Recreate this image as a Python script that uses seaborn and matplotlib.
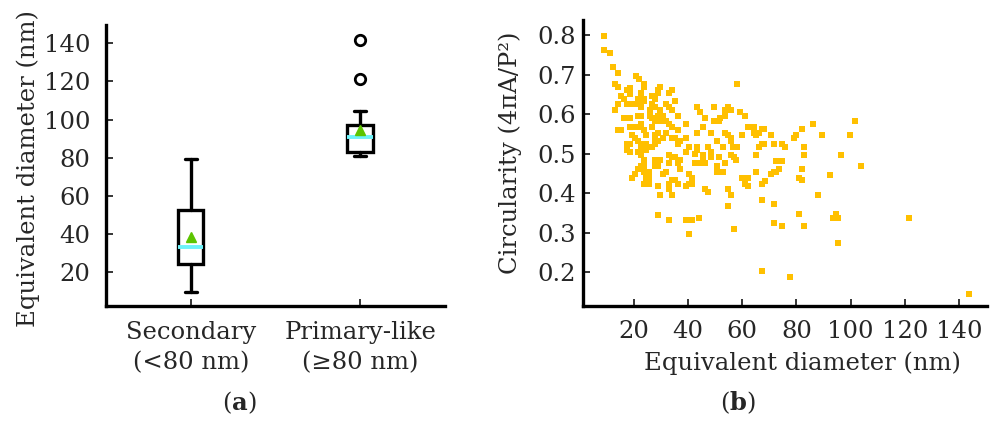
import matplotlib
matplotlib.use("Agg")
import matplotlib.pyplot as plt
import pandas as pd
import seaborn as sns

# ---- panel (a): box-plot summary statistics ----
categories = ["Secondary\n(<80 nm)", "Primary-like\n(≥80 nm)"]
box_q1 = [24.2, 83.2]
box_median = [33.1, 91.1]
box_q3 = [52.7, 97.2]
box_whislo = [9.5, 81.0]
box_whishi = [79.2, 104.7]
box_mean = [38.7, 94.6]
box_fliers = [[], [121.5, 141.6]]
a_yticks = [20, 40, 60, 80, 100, 120, 140]

# ---- panel (b): scatter ----
diameter = [
    8.9, 8.9, 11.0, 12.1, 14.2, 13.2, 14.2, 20.6, 21.7, 23.6, 23.6, 58.0, 18.4, 17.3, 15.3,
    16.3, 14.2, 13.2, 17.3, 18.4, 19.4, 18.4, 21.5, 22.5, 21.5, 22.5, 23.6, 23.6, 26.8, 27.8,
    28.9, 29.8, 28.9, 32.9, 34.0, 31.9, 32.9, 34.0, 35.0, 25.8, 26.8, 22.5, 22.5, 27.8, 29.8,
    30.8, 28.9, 27.8, 26.8, 25.8, 21.5, 22.5, 16.3, 18.4, 14.2, 15.3, 18.4, 19.4, 20.4, 21.5,
    22.5, 23.6, 24.6, 26.8, 27.8, 28.9, 29.8, 30.8, 31.9, 32.9, 34.0, 36.1, 36.1, 35.0, 36.1,
    37.1, 34.0, 31.9, 30.8, 27.8, 28.9, 27.8, 26.8, 24.6, 22.5, 21.5, 22.5, 24.6, 23.6, 20.4,
    19.4, 17.3, 18.4, 17.3, 18.4, 21.5, 22.5, 23.6, 23.6, 22.5, 21.5, 23.6, 24.6, 25.7, 25.7,
    23.6, 25.7, 20.4, 19.4, 27.8, 28.9, 29.8, 27.8, 28.9, 29.8, 28.9, 28.9, 32.9, 32.9, 32.9,
    34.0, 30.8, 31.9, 32.9, 32.9, 34.0, 35.0, 36.1, 37.1, 37.1, 36.1, 35.0, 34.0, 39.3, 39.3,
    39.3, 40.3, 39.3, 40.3, 41.3, 40.3, 41.3, 39.3, 41.3, 40.3, 44.2, 46.3, 47.3, 42.4, 43.4,
    44.2, 45.4, 46.3, 45.4, 42.4, 43.4, 43.4, 44.5, 45.4, 46.3, 47.3, 43.4, 48.4, 48.4, 48.4,
    49.7, 49.7, 50.6, 51.6, 51.5, 50.6, 50.6, 52.7, 52.7, 51.5, 53.5, 53.5, 53.8, 53.8, 54.8,
    55.8, 54.8, 55.8, 55.8, 56.6, 55.8, 56.8, 57.8, 58.0, 59.0, 61.1, 60.0, 62.2, 64.2, 64.2,
    65.2, 66.2, 67.1, 68.1, 70.6, 66.2, 67.1, 68.1, 65.2, 65.2, 60.0, 61.1, 62.2, 62.2, 54.8,
    55.8, 54.8, 56.8, 67.4, 68.4, 67.4, 71.6, 71.6, 74.8, 70.6, 71.6, 72.6, 73.5, 71.6, 72.6,
    74.8, 74.8, 75.8, 79.0, 79.9, 81.9, 80.9, 81.9, 81.9, 82.9, 82.9, 80.9, 82.9, 86.1, 89.3,
    88.1, 92.5, 93.4, 94.5, 95.4, 95.4, 96.6, 99.6, 101.7, 103.9, 121.5, 67.4, 77.7, 143.6,
]
circularity = [
    0.797, 0.761, 0.754, 0.718, 0.705, 0.676, 0.669, 0.697, 0.690, 0.676, 0.669, 0.676, 0.665, 0.661, 0.646,
    0.639, 0.625, 0.611, 0.625, 0.625, 0.625, 0.650, 0.639, 0.639, 0.625, 0.625, 0.639, 0.633, 0.646, 0.639,
    0.661, 0.669, 0.654, 0.654, 0.661, 0.625, 0.618, 0.611, 0.633, 0.611, 0.625, 0.654, 0.618, 0.618, 0.611,
    0.596, 0.596, 0.582, 0.590, 0.596, 0.596, 0.596, 0.589, 0.589, 0.560, 0.560, 0.568, 0.568, 0.568, 0.568,
    0.574, 0.560, 0.547, 0.568, 0.547, 0.553, 0.582, 0.589, 0.582, 0.574, 0.568, 0.596, 0.560, 0.539, 0.525,
    0.532, 0.539, 0.553, 0.539, 0.532, 0.532, 0.525, 0.517, 0.525, 0.525, 0.532, 0.518, 0.510, 0.510, 0.539,
    0.546, 0.525, 0.525, 0.510, 0.504, 0.503, 0.496, 0.483, 0.469, 0.469, 0.462, 0.454, 0.439, 0.454, 0.439,
    0.424, 0.424, 0.447, 0.439, 0.483, 0.476, 0.483, 0.468, 0.469, 0.395, 0.417, 0.345, 0.331, 0.424, 0.411,
    0.432, 0.447, 0.454, 0.475, 0.496, 0.490, 0.490, 0.475, 0.462, 0.483, 0.424, 0.432, 0.395, 0.576, 0.539,
    0.503, 0.517, 0.417, 0.424, 0.424, 0.447, 0.439, 0.331, 0.331, 0.296, 0.338, 0.410, 0.403, 0.500, 0.508,
    0.475, 0.481, 0.475, 0.496, 0.475, 0.553, 0.618, 0.604, 0.568, 0.589, 0.517, 0.517, 0.503, 0.490, 0.553,
    0.618, 0.582, 0.532, 0.589, 0.582, 0.469, 0.454, 0.454, 0.517, 0.490, 0.475, 0.553, 0.596, 0.611, 0.618,
    0.611, 0.547, 0.539, 0.532, 0.517, 0.496, 0.490, 0.483, 0.517, 0.604, 0.596, 0.547, 0.568, 0.568, 0.553,
    0.547, 0.553, 0.561, 0.561, 0.547, 0.517, 0.524, 0.525, 0.496, 0.454, 0.439, 0.424, 0.417, 0.439, 0.410,
    0.395, 0.367, 0.309, 0.424, 0.431, 0.382, 0.373, 0.324, 0.317, 0.447, 0.454, 0.454, 0.460, 0.525, 0.481,
    0.481, 0.525, 0.517, 0.539, 0.547, 0.561, 0.439, 0.432, 0.460, 0.517, 0.496, 0.346, 0.317, 0.575, 0.547,
    0.395, 0.446, 0.338, 0.346, 0.338, 0.274, 0.496, 0.547, 0.582, 0.468, 0.338, 0.203, 0.188, 0.145,
]
b_xticks = [20, 40, 60, 80, 100, 120, 140]
b_yticks = [0.2, 0.3, 0.4, 0.5, 0.6, 0.7, 0.8]

sns.set_style("ticks")
plt.rcParams["font.family"] = ["DejaVu Serif"]
plt.rcParams["mathtext.fontset"] = "dejavuserif"

FS = 17.5
fig = plt.figure(figsize=(9.94, 4.23), dpi=100)
ax1 = fig.add_axes([0.1066, 0.2773, 0.341, 0.6636])
ax2 = fig.add_axes([0.5865, 0.2766, 0.4064, 0.676])

# ---- (a) box plot ----
stats = []
for i, c in enumerate(categories):
    stats.append(dict(label=c, q1=box_q1[i], med=box_median[i], q3=box_q3[i],
                      whislo=box_whislo[i], whishi=box_whishi[i],
                      mean=box_mean[i], fliers=box_fliers[i]))
ax1.bxp(stats, positions=[0, 1], widths=0.15, capwidths=0.07, showmeans=True,
        patch_artist=True,
        boxprops=dict(facecolor="white", edgecolor="black", linewidth=2.4),
        medianprops=dict(color="#6EF3FA", linewidth=2.8),
        whiskerprops=dict(color="black", linewidth=2.4),
        capprops=dict(color="black", linewidth=2.4),
        meanprops=dict(marker="^", markerfacecolor="#5DC400", markeredgecolor="#5DC400",
                       markersize=6.5),
        flierprops=dict(marker="o", markerfacecolor="none", markeredgecolor="black",
                        markersize=7.5, markeredgewidth=2))
ax1.set_xlim(-0.5, 1.5)
ax1.set_ylim(2.5, 149.6)
ax1.set_yticks(a_yticks)
ax1.set_xticks([0, 1])
ax1.set_xticklabels(categories, fontsize=FS, linespacing=1.4)
ax1.set_ylabel("Equivalent diameter (nm)", fontsize=FS)
ax1.yaxis.set_label_coords(-0.195, 0.49)
ax1.tick_params(axis="y", direction="in", length=5, width=1.3, labelsize=FS, pad=11)
ax1.tick_params(axis="x", direction="in", length=5, width=1.3, labelsize=FS, pad=11)

# ---- (b) scatter ----
df = pd.DataFrame({"diameter": diameter, "circularity": circularity})
sns.scatterplot(data=df, x="diameter", y="circularity", marker="s", s=16,
                color="#FFC000", linewidth=0, ax=ax2)
ax2.set_xlim(1.2, 150.3)
ax2.set_ylim(0.114, 0.838)
ax2.set_xticks(b_xticks)
ax2.set_yticks(b_yticks)
ax2.set_yticklabels([f"{v:.1f}" for v in b_yticks])
ax2.set_xlabel("Equivalent diameter (nm)", fontsize=FS)
ax2.xaxis.set_label_coords(0.543, -0.16)
ax2.set_ylabel("Circularity (4πA/P²)", fontsize=FS)
ax2.yaxis.set_label_coords(-0.151, 0.535)
ax2.tick_params(axis="y", direction="in", length=5, width=1.3, labelsize=FS, pad=5)
ax2.tick_params(axis="x", direction="in", length=5, width=1.3, labelsize=FS, pad=10)

for ax in (ax1, ax2):
    sns.despine(ax=ax)
    for s in ("left", "bottom"):
        ax.spines[s].set_linewidth(2.4)
        ax.spines[s].set_color("black")

fig.text(0.2404, 0.047, r"($\mathbf{a}$)", ha="center", va="center", fontsize=FS)
fig.text(0.7425, 0.047, r"($\mathbf{b}$)", ha="center", va="center", fontsize=FS)

fig.savefig("out.png", dpi=100)
